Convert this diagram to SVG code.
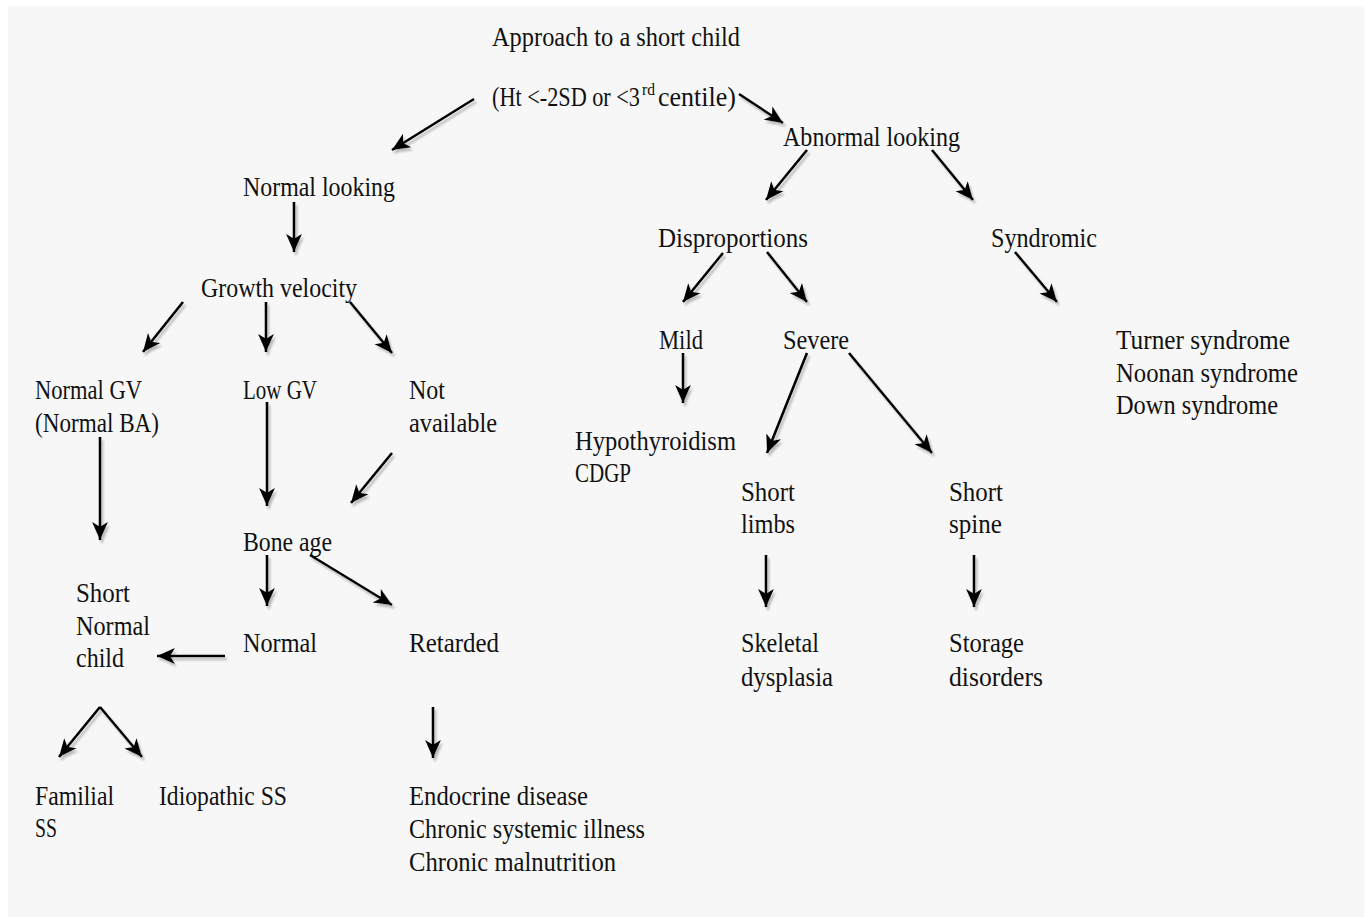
<svg xmlns="http://www.w3.org/2000/svg" width="1367" height="917" viewBox="0 0 1367 917">
<style>
text{font-family:"Liberation Serif","DejaVu Serif",serif;font-size:28px;fill:#111;}
.sup{font-size:17px;}
.c line{stroke:#000;stroke-width:2.6;marker-end:url(#ah);}
</style>
<defs>
<marker id="ah" markerUnits="userSpaceOnUse" markerWidth="20" markerHeight="20" viewBox="-17 -8 19 16" refX="0" refY="0" orient="auto">
<path d="M0,0 L-17,-7.5 L-12.5,0 L-17,7.5 Z" fill="#000"/>
</marker>
<filter id="sh" x="-20%" y="-20%" width="140%" height="140%">
<feDropShadow dx="2" dy="3" stdDeviation="1" flood-color="#888" flood-opacity="0.55"/>
</filter>
</defs>
<rect x="0" y="0" width="1367" height="917" fill="#fff"/>
<rect x="8" y="6" width="1356" height="911" fill="#f7f7f7"/>

<g id="connectors" class="c" filter="url(#sh)">
<line x1="474" y1="99" x2="392" y2="150"/>
<line x1="739" y1="94" x2="783" y2="123"/>
<line x1="807" y1="150" x2="766" y2="200"/>
<line x1="932" y1="150" x2="973" y2="200"/>
<line x1="294" y1="202" x2="294" y2="252"/>
<line x1="723" y1="253" x2="683" y2="302"/>
<line x1="767" y1="252" x2="807" y2="302"/>
<line x1="1015" y1="252" x2="1057" y2="302"/>
<line x1="183" y1="302" x2="143" y2="352"/>
<line x1="266" y1="302" x2="266" y2="352"/>
<line x1="350" y1="302" x2="392" y2="353"/>
<line x1="683" y1="353" x2="683" y2="403"/>
<line x1="807" y1="353" x2="767" y2="453"/>
<line x1="849" y1="353" x2="932" y2="453"/>
<line x1="100" y1="437" x2="100" y2="540"/>
<line x1="267" y1="402" x2="267" y2="506"/>
<line x1="392" y1="453" x2="351" y2="503"/>
<line x1="267" y1="555" x2="267" y2="606"/>
<line x1="310" y1="555" x2="392" y2="605"/>
<line x1="225" y1="656" x2="157" y2="656"/>
<line x1="100" y1="707" x2="59" y2="757"/>
<line x1="100" y1="707" x2="142" y2="757"/>
<line x1="433" y1="707" x2="433" y2="758"/>
<line x1="766" y1="555" x2="766" y2="607"/>
<line x1="974" y1="555" x2="974" y2="607"/>
</g>

<g id="n-root">
<text x="492" y="46" textLength="248" lengthAdjust="spacingAndGlyphs">Approach to a short child</text>
<text x="492" y="106" textLength="148" lengthAdjust="spacingAndGlyphs">(Ht &lt;-2SD or &lt;3</text>
<text class="sup" x="642" y="95" textLength="13" lengthAdjust="spacingAndGlyphs">rd</text>
<text x="658" y="106" textLength="78" lengthAdjust="spacingAndGlyphs">centile)</text>
</g>
<g id="n-abnormal"><text x="783" y="146" textLength="177" lengthAdjust="spacingAndGlyphs">Abnormal looking</text></g>
<g id="n-normal-looking"><text x="243" y="196" textLength="152" lengthAdjust="spacingAndGlyphs">Normal looking</text></g>
<g id="n-disproportions"><text x="658" y="247" textLength="150" lengthAdjust="spacingAndGlyphs">Disproportions</text></g>
<g id="n-syndromic"><text x="991" y="247" textLength="106" lengthAdjust="spacingAndGlyphs">Syndromic</text></g>
<g id="n-gv"><text x="201" y="297" textLength="156" lengthAdjust="spacingAndGlyphs">Growth velocity</text></g>
<g id="n-mild"><text x="659" y="349" textLength="44" lengthAdjust="spacingAndGlyphs">Mild</text></g>
<g id="n-severe"><text x="783" y="349" textLength="66" lengthAdjust="spacingAndGlyphs">Severe</text></g>
<g id="n-syndromes">
<text x="1116" y="349" textLength="174" lengthAdjust="spacingAndGlyphs">Turner syndrome</text>
<text x="1116" y="382" textLength="182" lengthAdjust="spacingAndGlyphs">Noonan syndrome</text>
<text x="1116" y="414" textLength="162" lengthAdjust="spacingAndGlyphs">Down syndrome</text>
</g>
<g id="n-normal-gv">
<text x="35" y="399" textLength="107" lengthAdjust="spacingAndGlyphs">Normal GV</text>
<text x="35" y="432" textLength="124" lengthAdjust="spacingAndGlyphs">(Normal BA)</text>
</g>
<g id="n-low-gv"><text x="243" y="399" textLength="74" lengthAdjust="spacingAndGlyphs">Low GV</text></g>
<g id="n-not-available">
<text x="409" y="399" textLength="36" lengthAdjust="spacingAndGlyphs">Not</text>
<text x="409" y="432" textLength="88" lengthAdjust="spacingAndGlyphs">available</text>
</g>
<g id="n-hypo">
<text x="575" y="450" textLength="161" lengthAdjust="spacingAndGlyphs">Hypothyroidism</text>
<text x="575" y="482" textLength="56" lengthAdjust="spacingAndGlyphs">CDGP</text>
</g>
<g id="n-short-limbs">
<text x="741" y="501" textLength="54" lengthAdjust="spacingAndGlyphs">Short</text>
<text x="741" y="533" textLength="54" lengthAdjust="spacingAndGlyphs">limbs</text>
</g>
<g id="n-short-spine">
<text x="949" y="501" textLength="54" lengthAdjust="spacingAndGlyphs">Short</text>
<text x="949" y="533" textLength="53" lengthAdjust="spacingAndGlyphs">spine</text>
</g>
<g id="n-bone-age"><text x="243" y="551" textLength="89" lengthAdjust="spacingAndGlyphs">Bone age</text></g>
<g id="n-short-normal-child">
<text x="76" y="602" textLength="54" lengthAdjust="spacingAndGlyphs">Short</text>
<text x="76" y="635" textLength="74" lengthAdjust="spacingAndGlyphs">Normal</text>
<text x="76" y="667" textLength="48" lengthAdjust="spacingAndGlyphs">child</text>
</g>
<g id="n-normal"><text x="243" y="652" textLength="74" lengthAdjust="spacingAndGlyphs">Normal</text></g>
<g id="n-retarded"><text x="409" y="652" textLength="90" lengthAdjust="spacingAndGlyphs">Retarded</text></g>
<g id="n-skeletal">
<text x="741" y="652" textLength="78" lengthAdjust="spacingAndGlyphs">Skeletal</text>
<text x="741" y="686" textLength="92" lengthAdjust="spacingAndGlyphs">dysplasia</text>
</g>
<g id="n-storage">
<text x="949" y="652" textLength="75" lengthAdjust="spacingAndGlyphs">Storage</text>
<text x="949" y="686" textLength="94" lengthAdjust="spacingAndGlyphs">disorders</text>
</g>
<g id="n-familial">
<text x="35" y="805" textLength="79" lengthAdjust="spacingAndGlyphs">Familial</text>
<text x="35" y="837" textLength="22" lengthAdjust="spacingAndGlyphs">SS</text>
</g>
<g id="n-idiopathic"><text x="159" y="805" textLength="128" lengthAdjust="spacingAndGlyphs">Idiopathic SS</text></g>
<g id="n-causes">
<text x="409" y="805" textLength="179" lengthAdjust="spacingAndGlyphs">Endocrine disease</text>
<text x="409" y="838" textLength="236" lengthAdjust="spacingAndGlyphs">Chronic systemic illness</text>
<text x="409" y="871" textLength="207" lengthAdjust="spacingAndGlyphs">Chronic malnutrition</text>
</g>
</svg>
